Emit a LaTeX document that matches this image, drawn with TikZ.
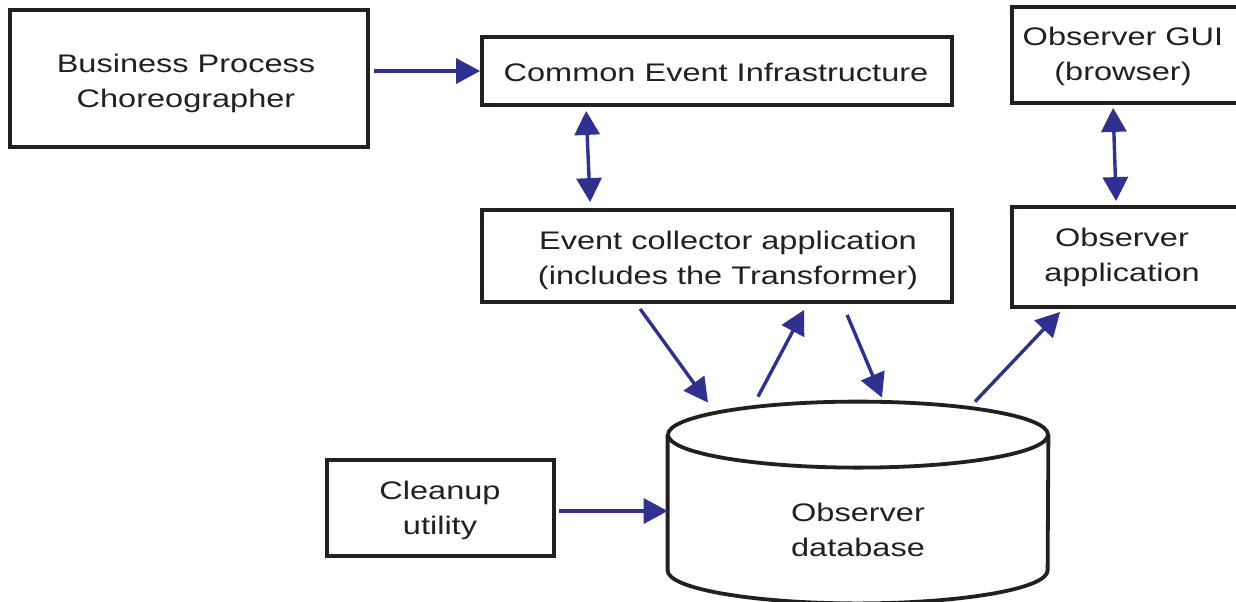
\documentclass[tikz,border=0pt]{standalone}
\usepackage{fontspec}
\setmainfont[FakeStretch=1.28]{Liberation Sans}
\usetikzlibrary{arrows.meta}
\definecolor{arrblue}{RGB}{46,49,146}
\definecolor{boxblack}{RGB}{35,31,32}
\begin{document}
\begin{tikzpicture}[x=0.5pt,y=-0.5pt,
  box/.style={draw=boxblack,line width=1.9pt,fill=white,inner sep=0pt},
  txt/.style={align=center,inner sep=0pt,text=boxblack,font=\fontsize{12.7}{17.5}\selectfont},
  arr/.style={draw=arrblue,line width=1.7pt,-{Triangle[length=12pt,width=12.5pt]}},
  darr/.style={draw=arrblue,line width=1.7pt,{Triangle[length=12pt,width=12.5pt]}-{Triangle[length=12pt,width=12.5pt]}}]
\useasboundingbox (0,0) rectangle (1236,601);
% boxes
\node[box,minimum width=179pt,minimum height=68.5pt] (bpc) at (189,78.5) {};
\node[txt] (bpct) at (186,83) {Business Process\\Choreographer};
\node[box,minimum width=235pt,minimum height=34pt] (cei) at (717,71) {};
\node[txt] (ceit) at (716,72) {Common Event Infrastructure};
\node[box,minimum width=115pt,minimum height=48pt] (gui) at (1127,55) {};
\node[txt] (guit) at (1123,56) {Observer GUI\\(browser)};
\node[box,minimum width=235pt,minimum height=46pt] (ec) at (717,256) {};
\node[txt] (ect) at (728,260) {Event collector application\\(includes the Transformer)};
\node[box,minimum width=115pt,minimum height=50pt] (obs) at (1127,257) {};
\node[txt] (obst) at (1122,257) {Observer\\application};
\node[box,minimum width=113.5pt,minimum height=48pt] (cu) at (440.5,508) {};
\node[txt] (cut) at (440,510) {Cleanup\\utility};
% cylinder
\node[inner sep=0pt,minimum width=190pt,minimum height=67.5pt] (db) at (858,502.5) {};
\draw[boxblack,line width=1.9pt,fill=white] (db.north west) -- (db.south west) arc (180:360:95pt and 16.5pt) -- (db.north east);
\draw[boxblack,line width=1.9pt] (db.north) ellipse (95pt and 16.5pt);
\node[txt] (dbt) at (858,530) {Observer\\database};
% connectors
\draw[arr] ([xshift=2pt]bpc.east |- cei.west) -- (cei.west);
\draw[darr] ([xshift=53pt,yshift=-2pt]cei.south west) -- ([xshift=55pt,yshift=3pt]ec.north west);
\draw[darr] ([xshift=51.5pt,yshift=-1.5pt]gui.south west) -- ([xshift=53pt,yshift=2pt]obs.north west);
\draw[arr] ([xshift=80pt,yshift=-2.5pt]ec.south west) -- ([xshift=-75pt,yshift=16pt]db.north);
\draw[arr] ([xshift=-50pt,yshift=19pt]db.north) -- ([xshift=162pt,yshift=-3pt]ec.south west);
\draw[arr] ([xshift=183.5pt,yshift=-5.5pt]ec.south west) -- ([xshift=12pt,yshift=18.5pt]db.north);
\draw[arr] ([xshift=58.5pt,yshift=16.5pt]db.north) -- ([xshift=25pt,yshift=-1.5pt]obs.south west);
\draw[arr] ([xshift=1.5pt,yshift=-1.5pt]cu.east) -- ([yshift=-1.5pt]cu.east -| db.west);
\end{tikzpicture}
\end{document}
